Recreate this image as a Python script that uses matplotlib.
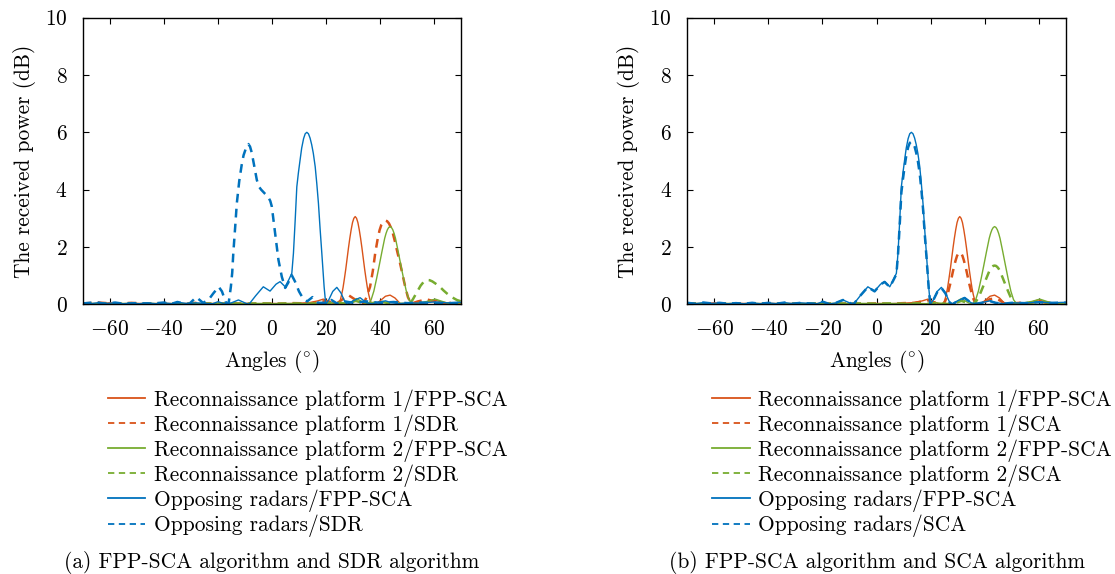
import matplotlib
matplotlib.use("Agg")
import matplotlib.pyplot as plt

plt.rcParams["font.family"] = ["cmr10", "DejaVu Serif"]
plt.rcParams["mathtext.fontset"] = "cm"
plt.rcParams["axes.formatter.use_mathtext"] = True
plt.rcParams["axes.unicode_minus"] = True

ORANGE = "#D95319"
GREEN = "#77AC30"
BLUE = "#0072BD"

# ---- reconnaissance platform 1, FPP-SCA (same run in both panels)
p1_fpp_ang = [-70, -65, -60, -55, -50, -45, -40, -35, -30, -25, -20, -15, -10, -5, 0, 5, 10,
              14, 17, 19, 21, 23, 24.6, 25.3, 25.8, 26.3, 26.8, 27.3, 27.8, 28.3, 28.8, 29.3,
              29.8, 30.3, 30.8, 31.3, 31.8, 32.3, 32.8, 33.3, 33.8, 34.3, 34.8, 35.3, 35.8,
              36.3, 36.8, 37.5, 38.2, 40, 42, 43.7, 45.5, 47.5, 50, 53, 56, 59.8, 63, 66, 70]
p1_fpp_val = [0.04, 0.02, 0.05, 0.02, 0.03, 0.02, 0.03, 0.02, 0.03, 0.02, 0.03, 0.02, 0.03, 0.02,
              0.03, 0.02, 0.04, 0.06, 0.12, 0.18, 0.10, 0.02, 0.0, 0.15, 0.34, 0.58, 0.89, 1.22,
              1.59, 1.96, 2.3, 2.6, 2.85, 3.0, 3.06, 3.0, 2.85, 2.6, 2.3, 1.96, 1.59, 1.22, 0.89,
              0.58, 0.34, 0.15, 0.04, 0.01, 0.0, 0.12, 0.28, 0.32, 0.22, 0.02, 0.03, 0.06, 0.04,
              0.15, 0.08, 0.03, 0.05]

# ---- reconnaissance platform 1, SDR
p1_sdr_ang = [-70, -64, -58, -52, -46, -40, -34, -28, -22, -16, -10, -4, 2, 8, 14, 17, 20, 24,
              28.3, 31, 33.8, 35, 36.3, 37.3, 38.2, 39, 39.8, 40.5, 41.2, 41.9, 42.6, 43.3, 44,
              44.8, 45.6, 46.4, 47.4, 48.4, 49.3, 50.3, 51.5, 54, 57.3, 61, 64, 67, 70]
p1_sdr_val = [0.03, 0.06, 0.02, 0.05, 0.02, 0.04, 0.02, 0.05, 0.02, 0.04, 0.02, 0.03, 0.02, 0.04,
              0.03, 0.06, 0.12, 0.03, 0.32, 0.15, 0.0, 0.25, 0.61, 1.15, 1.78, 2.22, 2.58, 2.78,
              2.88, 2.92, 2.9, 2.82, 2.68, 2.45, 2.15, 1.82, 1.43, 1.0, 0.61, 0.25, 0.02, 0.10,
              0.17, 0.08, 0.02, 0.06, 0.04]

# ---- reconnaissance platform 1, SCA
p1_sca_ang = p1_fpp_ang
p1_sca_val = [0.03, 0.02, 0.04, 0.02, 0.03, 0.02, 0.03, 0.02, 0.03, 0.02, 0.03, 0.02, 0.03, 0.02,
              0.03, 0.02, 0.04, 0.05, 0.10, 0.14, 0.08, 0.02, 0.0, 0.09, 0.20, 0.34, 0.53, 0.72,
              0.94, 1.16, 1.36, 1.54, 1.69, 1.78, 1.81, 1.78, 1.69, 1.54, 1.36, 1.16, 0.94, 0.72,
              0.53, 0.34, 0.20, 0.09, 0.02, 0.01, 0.0, 0.08, 0.18, 0.20, 0.14, 0.02, 0.03, 0.05,
              0.03, 0.10, 0.05, 0.02, 0.04]

# ---- reconnaissance platform 2, FPP-SCA
p2_fpp_ang = [-70, -65, -60, -55, -50, -45, -40, -35, -30, -25, -20, -15, -10, -5, 0, 5, 10, 15,
              19, 22, 25, 28, 31.4, 34, 35.7, 36.7, 37.7, 38.7, 39.7, 40.7, 41.7, 42.2, 42.7,
              43.2, 43.7, 44.2, 44.7, 45.2, 45.7, 46.7, 47.7, 48.7, 49.7, 50.7, 51.7, 52.4, 55,
              57.5, 60.4, 63, 65.5, 68, 70]
p2_fpp_val = [0.02, 0.03, 0.02, 0.03, 0.02, 0.03, 0.02, 0.03, 0.02, 0.03, 0.02, 0.03, 0.02, 0.03,
              0.02, 0.03, 0.02, 0.03, 0.02, 0.05, 0.03, 0.0, 0.20, 0.05, 0.0, 0.16, 0.46, 0.89,
              1.36, 1.84, 2.3, 2.47, 2.6, 2.68, 2.71, 2.68, 2.6, 2.47, 2.3, 1.84, 1.36, 0.89, 0.46,
              0.16, 0.03, 0.0, 0.06, 0.10, 0.18, 0.10, 0.02, 0.05, 0.04]

# ---- reconnaissance platform 2, SDR
p2_sdr_ang = [-70, -64, -58, -52, -46, -40, -34, -28, -22, -16, -10, -4, 2, 8, 14, 20, 25, 28,
              31, 34, 37, 40, 43, 45, 47, 49, 50.5, 52, 53.5, 55, 56.2, 57.3, 58.3, 59.3, 60.4,
              62, 63.5, 64.7, 66.5, 68.4, 70]
p2_sdr_val = [0.02, 0.03, 0.02, 0.03, 0.02, 0.03, 0.02, 0.03, 0.02, 0.03, 0.02, 0.03, 0.02, 0.03,
              0.02, 0.04, 0.05, 0.02, 0.12, 0.03, 0.04, 0.10, 0.04, 0.05, 0.02, 0.01, 0.0, 0.15,
              0.40, 0.65, 0.79, 0.85, 0.84, 0.80, 0.73, 0.62, 0.48, 0.38, 0.25, 0.15, 0.10]

# ---- reconnaissance platform 2, SCA
p2_sca_ang = p2_fpp_ang
p2_sca_val = [0.02, 0.03, 0.02, 0.03, 0.02, 0.03, 0.02, 0.03, 0.02, 0.03, 0.02, 0.03, 0.02, 0.03,
              0.02, 0.03, 0.02, 0.03, 0.02, 0.04, 0.02, 0.0, 0.12, 0.03, 0.0, 0.08, 0.23, 0.45,
              0.68, 0.92, 1.15, 1.24, 1.30, 1.34, 1.35, 1.34, 1.30, 1.24, 1.15, 0.92, 0.68, 0.45,
              0.23, 0.08, 0.02, 0.0, 0.04, 0.06, 0.10, 0.06, 0.02, 0.04, 0.03]

# ---- opposing radars, FPP-SCA (same run in both panels)
rad_fpp_ang = [-70, -67, -64, -61, -58, -55, -52, -49, -46, -43, -40, -37, -34, -31, -28, -25,
               -22, -19.9, -17.5, -15, -12.4, -10, -8.5, -6, -3.2, -0.7, 1.5, 3.0, 4.9, 6.2,
               7.35, 7.95, 8.6, 9.2, 9.8, 10.4, 11.0, 11.7, 12.3, 12.9, 13.5, 14.1, 14.7, 15.3,
               16.0, 16.6, 17.2, 17.8, 18.45, 19.3, 19.9, 21, 22.5, 24, 25.5, 27, 28, 30, 32.6,
               35, 37, 40, 42, 44, 47, 50, 55, 60, 65, 70]
rad_fpp_val = [0.05, 0.02, 0.06, 0.03, 0.05, 0.02, 0.04, 0.02, 0.05, 0.02, 0.05, 0.02, 0.06,
               0.02, 0.05, 0.03, 0.02, 0.09, 0.01, 0.05, 0.15, 0.05, 0.0, 0.30, 0.61, 0.46, 0.70,
               0.79, 0.61, 0.85, 1.08, 1.78, 2.94, 4.1, 4.6, 5.03, 5.45, 5.78, 5.95, 6.0, 5.95,
               5.8, 5.57, 5.27, 4.8, 4.2, 3.52, 2.65, 1.78, 0.61, 0.0, 0.15, 0.45, 0.59, 0.40,
               0.08, 0.0, 0.12, 0.23, 0.05, 0.02, 0.08, 0.12, 0.06, 0.02, 0.05, 0.04, 0.08, 0.05,
               0.07]

# ---- opposing radars, SDR
rad_sdr_ang = [-70, -65, -62, -58, -55, -50, -45, -40, -37, -35, -32, -30.5, -28, -25.5, -23.5,
               -21.7, -19.7, -18.5, -17, -16, -15.2, -14.7, -14.3, -13.6, -13, -12.1, -11.2,
               -10.5, -9.6, -8.7, -8.1, -7.5, -6.6, -5.6, -4.8, -4, -3.2, -2.5, -1.4, -0.6,
               -0.05, 1.17, 2.4, 3.65, 4.9, 6, 7.3, 8.5, 10, 11.5, 13, 15, 17, 20, 22, 24, 27,
               30, 35, 40, 45, 50, 55, 60, 65, 70]
rad_sdr_val = [0.03, 0.07, 0.02, 0.06, 0.02, 0.04, 0.02, 0.06, 0.02, 0.08, 0.02, 0.02, 0.25,
               0.05, 0.15, 0.38, 0.61, 0.45, 0.05, 0.05, 0.61, 1.1, 1.78, 2.7, 3.52, 4.3, 4.86,
               5.2, 5.45, 5.59, 5.5, 5.3, 4.85, 4.34, 4.1, 4.0, 3.92, 3.85, 3.75, 3.6, 3.41, 2.48,
               1.55, 0.96, 0.57, 0.75, 1.02, 0.80, 0.45, 0.20, 0.10, 0.25, 0.05, 0.05, 0.15, 0.03,
               0.10, 0.05, 0.10, 0.05, 0.08, 0.04, 0.06, 0.05, 0.04, 0.05]

# ---- opposing radars, SCA
rad_sca_ang = rad_fpp_ang
rad_sca_val = [0.05, 0.02, 0.06, 0.03, 0.05, 0.02, 0.04, 0.02, 0.05, 0.02, 0.05, 0.02, 0.06,
               0.02, 0.05, 0.03, 0.02, 0.09, 0.01, 0.05, 0.15, 0.05, 0.0, 0.30, 0.60, 0.45, 0.69,
               0.78, 0.60, 0.83, 1.05, 1.72, 2.8, 3.9, 4.38, 4.8, 5.18, 5.48, 5.63, 5.67, 5.63,
               5.5, 5.28, 5.0, 4.55, 4.0, 3.35, 2.52, 1.7, 0.58, 0.0, 0.14, 0.43, 0.57, 0.38,
               0.07, 0.0, 0.11, 0.22, 0.05, 0.02, 0.07, 0.11, 0.05, 0.02, 0.05, 0.04, 0.07, 0.05,
               0.06]

panels = [
    ("SDR", p1_sdr_ang, p1_sdr_val, p2_sdr_ang, p2_sdr_val, rad_sdr_ang, rad_sdr_val,
     "(a) FPP-SCA algorithm and SDR algorithm"),
    ("SCA", p1_sca_ang, p1_sca_val, p2_sca_ang, p2_sca_val, rad_sca_ang, rad_sca_val,
     "(b) FPP-SCA algorithm and SCA algorithm"),
]

fig = plt.figure(figsize=(11.15, 5.74), dpi=100)
ax_x0 = [0.0742, 0.6164]
ax_w = 0.3394
FS = 15.4
solid_kw = dict(lw=1.0, ls="-")
dash_kw = dict(lw=1.8, ls=(0, (3.5, 2.5)))

for i, (alg, a1, v1, a2, v2, ar, vr, caption) in enumerate(panels):
    ax = fig.add_axes([ax_x0[i], 0.4699, ax_w, 0.4993])
    ax.plot(p1_fpp_ang, p1_fpp_val, color=ORANGE, label="Reconnaissance platform 1/FPP-SCA", **solid_kw)
    ax.plot(a1, v1, color=ORANGE, label=f"Reconnaissance platform 1/{alg}", **dash_kw)
    ax.plot(p2_fpp_ang, p2_fpp_val, color=GREEN, label="Reconnaissance platform 2/FPP-SCA", **solid_kw)
    ax.plot(a2, v2, color=GREEN, label=f"Reconnaissance platform 2/{alg}", **dash_kw)
    ax.plot(rad_fpp_ang, rad_fpp_val, color=BLUE, label="Opposing radars/FPP-SCA", **solid_kw)
    ax.plot(ar, vr, color=BLUE, label=f"Opposing radars/{alg}", **dash_kw)

    ax.set_xlim(-70, 70)
    ax.set_ylim(0, 10)
    ax.set_xticks([-60, -40, -20, 0, 20, 40, 60])
    ax.set_yticks([0, 2, 4, 6, 8, 10])
    ax.tick_params(direction="in", top=True, right=True, length=4, width=0.8,
                   labelsize=FS)
    ax.tick_params(axis="x", pad=11)
    ax.tick_params(axis="y", pad=11)
    for s in ax.spines.values():
        s.set_linewidth(1.0)
    ax.set_xlabel(r"Angles $(^{\circ})$", fontsize=FS, va="center")
    ax.set_ylabel("The received power (dB)", fontsize=FS, va="center")
    ax.xaxis.set_label_coords(0.5, -0.200)
    ax.yaxis.set_label_coords(-0.155, 0.5)

    leg = ax.legend(loc="upper left", bbox_to_anchor=(ax_x0[i] + 0.0225, 0.322),
                    bbox_transform=fig.transFigure, frameon=False, fontsize=FS,
                    handlelength=1.75, handletextpad=0.4, labelspacing=0.12,
                    borderpad=0, borderaxespad=0)
    for h in leg.legend_handles:
        h.set_linewidth(1.3)

    fig.text(ax_x0[i] + ax_w / 2, 1 - 562 / 574, caption, ha="center", va="center", fontsize=FS)

fig.savefig("out.png", dpi=100)
